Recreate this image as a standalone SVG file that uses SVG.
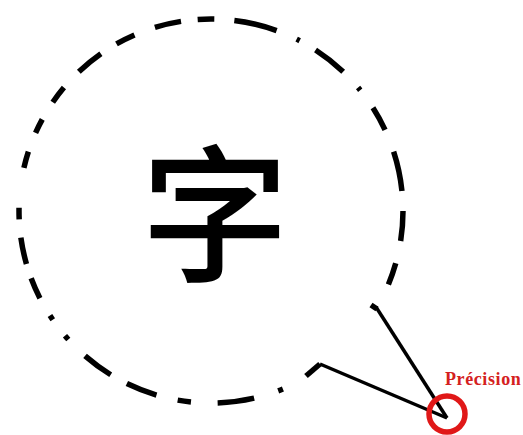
<svg xmlns="http://www.w3.org/2000/svg" width="523" height="435" viewBox="0 0 523 435">
  <style>
    .ring { fill: none; stroke: #000; stroke-width: 5.5; }
    .stub { fill: none; stroke: #000; stroke-width: 5.5; stroke-linecap: butt; stroke-linejoin: miter; }
    .tail { fill: none; stroke: #000; stroke-width: 3.5; stroke-linecap: butt; }
    .glyph { font-family: "Noto Sans CJK SC", "Noto Sans CJK JP", sans-serif; font-weight: 500; font-size: 148px; fill: #000; }
    .label { font-family: "Liberation Serif", "Times New Roman", serif; font-weight: bold; font-size: 18px; fill: #d42020; letter-spacing: 0.6px; }
  </style>
  <rect width="523" height="435" fill="#fff"/>
  <g id="bubble">
    <circle class="ring" cx="211" cy="211" r="192" pathLength="360"
      stroke-dasharray="9 6.8 6.7 45.5 1.5 7.5 11 8 4 6.5 9.5 5.5 9.5 7 1.5 6 1.5 6 6.5 4.5 8 5.5 3.5 12 5 6 4.5 6 5.5 6.5 8.5 5.5 6 6.5 8 5 5 6 13 6.5 1 5.5 10.5 6.5 1 6.5 7.5 7 12 6"/>
    <text class="glyph" x="215" y="270" text-anchor="middle">字</text>
  </g>
  <g id="connectors">
    <path class="stub" d="M 371 305 L 377 309"/>
    <path class="stub" d="M 306 376 L 320 364"/>
    <path class="tail" d="M 376 307 L 447 418"/>
    <path class="tail" d="M 320 364 L 447 418"/>
  </g>
  <g id="precision">
    <circle cx="447" cy="414" r="18" fill="none" stroke="#e01818" stroke-width="5.5"/>
    <text class="label" x="445" y="385">Précision</text>
  </g>
</svg>
